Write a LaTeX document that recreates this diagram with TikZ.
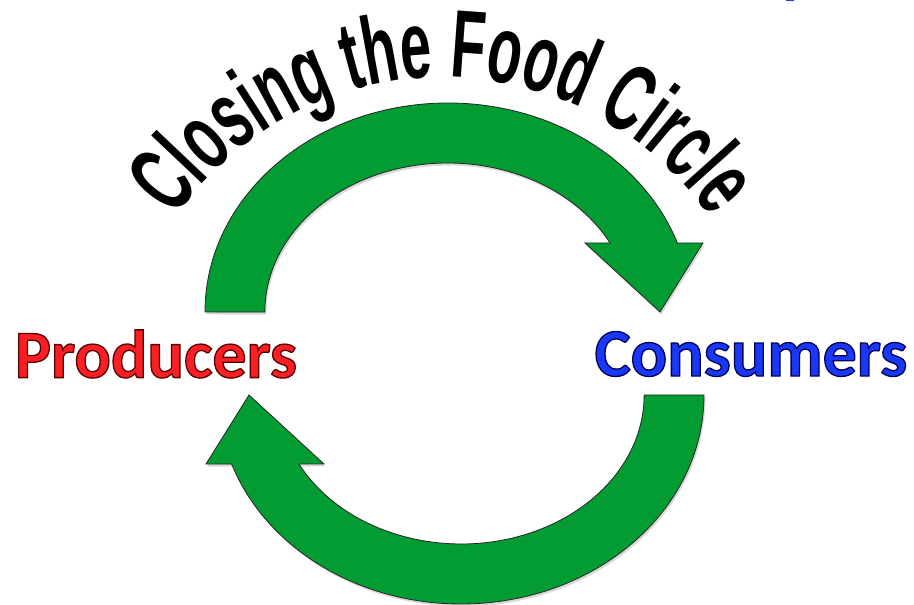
\documentclass[tikz,border=0pt]{standalone}
\usepackage{fontspec}
\setmainfont{Carlito}
\newfontfamily\archfont[FakeStretch=0.585]{Liberation Sans}
\usetikzlibrary{decorations.text}
\definecolor{arrowgreen}{RGB}{3,156,50}
\definecolor{consblue}{RGB}{25,55,245}
% fill and outline the glyphs (text render mode 2)
\newcommand{\outlined}[3]{\special{pdf:code q #1 rg #2 RG 2 Tr 1.3 w}#3\special{pdf:code Q}}
\newcommand{\foodarrow}{(205,293) arc[start angle=180, end angle=19.3, x radius=243, y radius=209]
  -- (703,362) -- (660,293) -- (585,362) -- (610,362)
  arc[start angle=27.6, end angle=180, x radius=183, y radius=149] -- cycle}

\begin{document}
\begin{tikzpicture}[x=1pt, y=1pt]
\useasboundingbox (0,0) rectangle (914,605);
% arrows
\fill[black!30, opacity=0.5, shift={(1.5,-2.5)}] \foodarrow;
\draw[fill=arrowgreen, draw=black!85, line width=0.8pt] \foodarrow;
\fill[black!30, opacity=0.5, shift={(1.5,-2.5)}, rotate around={180:(454.5,251.5)}] \foodarrow;
\draw[fill=arrowgreen, draw=black!85, line width=0.8pt, rotate around={180:(454.5,251.5)}] \foodarrow;
% title on arch
\path[decorate, decoration={text along path, text align=center,
  text={|\archfont\bfseries\fontsize{96}{96}\selectfont|Closing the Food Circle}}]
  (443,177) ++({335*cos(150)},{351*sin(150)}) arc[start angle=150, end angle=30, x radius=335, y radius=351];
\node at (156,251) (prod) {\fontsize{68}{68}\selectfont\bfseries\outlined{0.98 0.12 0.14}{0.35 0 0}{Producers}};
\node at (751,251) (cons) {\fontsize{68}{68}\selectfont\bfseries\outlined{0.1 0.22 0.96}{0 0 0.35}{Consumers}};
\fill[consblue] (786,603.5) rectangle (794,605);
\end{tikzpicture}
\end{document}
